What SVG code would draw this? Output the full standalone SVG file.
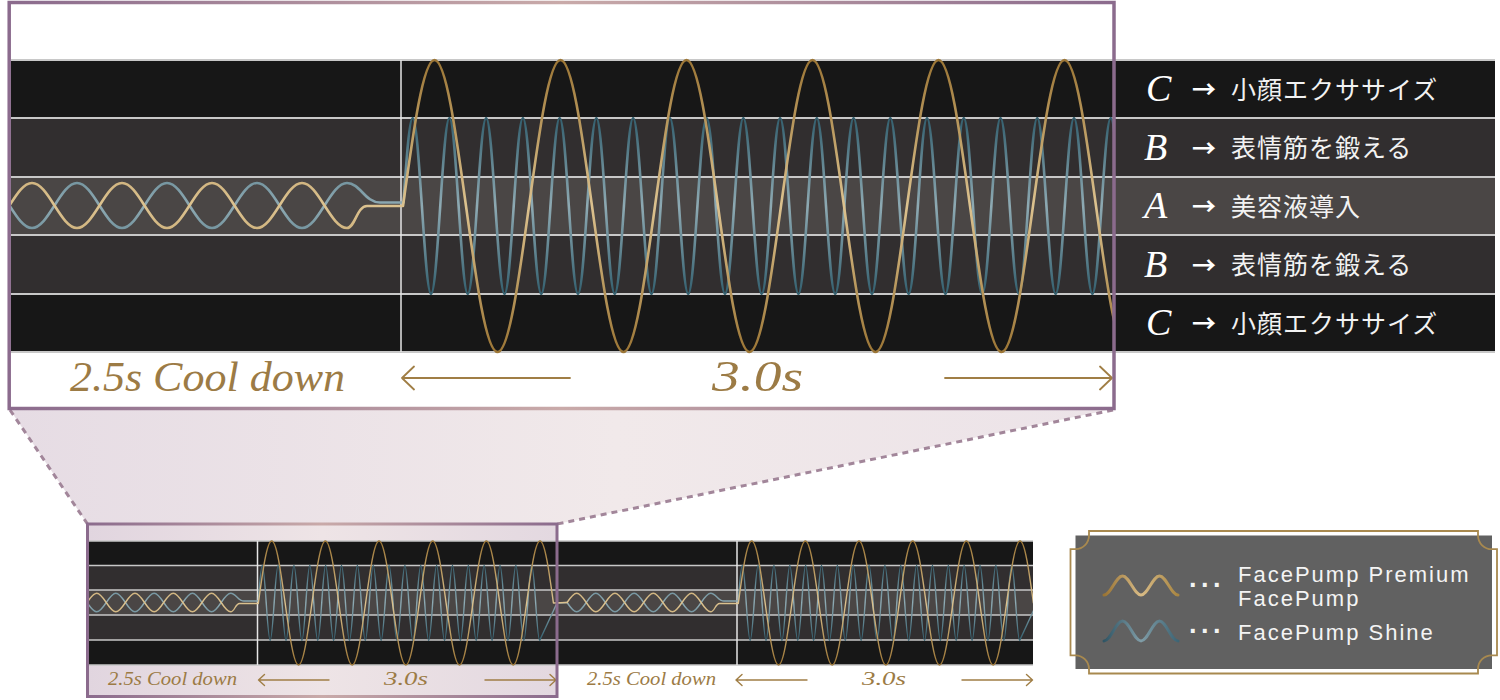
<svg xmlns="http://www.w3.org/2000/svg" width="1500" height="700" viewBox="0 0 1500 700">
<defs>
<style>
.b1{fill:#171717}.b2{fill:#312e2f}.b3{fill:#4a4645}
.sep{stroke:#c8c8c8;stroke-width:2;fill:none}
.seps{stroke:#c8c8c8;stroke-width:1.5;fill:none}
.vl{stroke:#e6e6e6;stroke-width:1.5}
.lbl{font-family:"Liberation Serif",serif;font-style:italic;fill:#9c7b45}
.arw{stroke:#a07e45;stroke-width:1.8;fill:none;stroke-linecap:round;stroke-linejoin:round}
.arws{stroke:#a07e45;stroke-width:1.4;fill:none;stroke-linecap:round;stroke-linejoin:round}
.scr{font-family:"Liberation Serif",serif;font-style:italic;fill:#ffffff;font-size:38px}
.jp{font-family:"Noto Sans CJK JP",sans-serif;fill:#f2f2f2;font-size:25px;letter-spacing:1px}
.arr{font-family:"Noto Sans CJK JP",sans-serif;fill:#ffffff;font-size:24px;font-weight:bold}
.leg{font-family:"Liberation Sans",Arial,sans-serif;fill:#f4f4f4;font-size:22px;letter-spacing:2px}
.dots{font-family:"Liberation Sans",Arial,sans-serif;fill:#f4f4f4;font-size:27px;font-weight:bold;letter-spacing:3px}
.w{fill:none;stroke-linecap:round;stroke-linejoin:round}
</style>
<linearGradient id="frameG" x1="0" y1="0" x2="1" y2="0">
<stop offset="0" stop-color="#8b6b8d"/><stop offset="0.5" stop-color="#c9aaa9"/><stop offset="1" stop-color="#8b6b8d"/>
</linearGradient>
<linearGradient id="trapG" x1="0" y1="0" x2="1" y2="0">
<stop offset="0" stop-color="#e6dce4"/><stop offset="0.55" stop-color="#f1e9ea"/><stop offset="1" stop-color="#ece3e8"/>
</linearGradient>
<linearGradient id="smallFillG" x1="0" y1="0" x2="1" y2="0">
<stop offset="0" stop-color="#e1d5df"/><stop offset="0.5" stop-color="#eee4e6"/><stop offset="1" stop-color="#e3d8e0"/>
</linearGradient>
<linearGradient id="goldT" gradientUnits="userSpaceOnUse" x1="0" y1="60" x2="0" y2="352">
<stop offset="0" stop-color="#9c7636"/><stop offset="0.5" stop-color="#dcc28f"/><stop offset="1" stop-color="#9c7636"/>
</linearGradient>
<linearGradient id="blueT" gradientUnits="userSpaceOnUse" x1="0" y1="118" x2="0" y2="294">
<stop offset="0" stop-color="#34606f"/><stop offset="0.5" stop-color="#8eaab3"/><stop offset="1" stop-color="#34606f"/>
</linearGradient>
<linearGradient id="goldS" gradientUnits="userSpaceOnUse" x1="0" y1="541" x2="0" y2="665">
<stop offset="0" stop-color="#9c7636"/><stop offset="0.5" stop-color="#dcc28f"/><stop offset="1" stop-color="#9c7636"/>
</linearGradient>
<linearGradient id="blueS" gradientUnits="userSpaceOnUse" x1="0" y1="565" x2="0" y2="640">
<stop offset="0" stop-color="#34606f"/><stop offset="0.5" stop-color="#8eaab3"/><stop offset="1" stop-color="#34606f"/>
</linearGradient>
<linearGradient id="legGold" gradientUnits="userSpaceOnUse" x1="1104" y1="0" x2="1178" y2="0">
<stop offset="0" stop-color="#9a7434"/><stop offset="0.5" stop-color="#d8bb86"/><stop offset="1" stop-color="#a98642"/>
</linearGradient>
<linearGradient id="legBlue" gradientUnits="userSpaceOnUse" x1="1104" y1="0" x2="1178" y2="0">
<stop offset="0" stop-color="#2f5565"/><stop offset="0.5" stop-color="#809da7"/><stop offset="1" stop-color="#3d6575"/>
</linearGradient>
<clipPath id="clipTop"><rect x="11" y="0" width="1102" height="420"/></clipPath>
<clipPath id="clipSmall"><rect x="89" y="530" width="944" height="150"/></clipPath>
<path id="sGold" d="M87.1,602.5 c3.123,-4.764 6.11,-9.3 9.575,-9.3 s6.452,4.536 9.575,9.3 s6.11,9.3 9.575,9.3 s6.452,-4.536 9.575,-9.3 s6.11,-9.3 9.575,-9.3 s6.452,4.536 9.575,9.3 s6.11,9.3 9.575,9.3 s6.452,-4.536 9.575,-9.3 s6.11,-9.3 9.575,-9.3 s6.452,4.536 9.575,9.3 s6.11,9.3 9.575,9.3 s6.452,-4.536 9.575,-9.3 s6.11,-9.3 9.575,-9.3 s6.452,4.536 9.575,9.3 s6.11,9.3 9.575,9.3 C234.5,611.8 235.5,603.5 239.5,603.5 L258.3,603.5 c4.375,-32.26 8.56,-62.5 13.415,-62.5 s9.04,30.24 13.415,62 s8.56,62 13.415,62 s9.04,-30.24 13.415,-62 s8.56,-62 13.415,-62 s9.04,30.24 13.415,62 s8.56,62 13.415,62 s9.04,-30.24 13.415,-62 s8.56,-62 13.415,-62 s9.04,30.24 13.415,62 s8.56,62 13.415,62 s9.04,-30.24 13.415,-62 s8.56,-62 13.415,-62 s9.04,30.24 13.415,62 s8.56,62 13.415,62 s9.04,-30.24 13.415,-62 s8.56,-62 13.415,-62 s9.04,30.24 13.415,62 s8.56,62 13.415,62 s9.04,-30.24 13.415,-62 s8.56,-62 13.415,-62 s9.04,30.24 13.415,62 L567.1,602.5"/>
<path id="sBlue" d="M87.1,602.5 c3.123,4.764 6.11,9.3 9.575,9.3 s6.452,-4.536 9.575,-9.3 s6.11,-9.3 9.575,-9.3 s6.452,4.536 9.575,9.3 s6.11,9.3 9.575,9.3 s6.452,-4.536 9.575,-9.3 s6.11,-9.3 9.575,-9.3 s6.452,4.536 9.575,9.3 s6.11,9.3 9.575,9.3 s6.452,-4.536 9.575,-9.3 s6.11,-9.3 9.575,-9.3 s6.452,4.536 9.575,9.3 s6.11,9.3 9.575,9.3 s6.452,-4.536 9.575,-9.3 s6.11,-9.3 9.575,-9.3 C236,593.2 238,601 244,601 L258.3,601 c1.292,-17.65 2.528,-35.5 3.9625,-35.5 s2.67,18.29 3.9625,37.5 s2.528,37.5 3.9625,37.5 s2.67,-18.29 3.9625,-37.5 s2.528,-37.5 3.9625,-37.5 s2.67,18.29 3.9625,37.5 s2.528,37.5 3.9625,37.5 s2.67,-18.29 3.9625,-37.5 s2.528,-37.5 3.9625,-37.5 s2.67,18.29 3.9625,37.5 s2.528,37.5 3.9625,37.5 s2.67,-18.29 3.9625,-37.5 s2.528,-37.5 3.9625,-37.5 s2.67,18.29 3.9625,37.5 s2.528,37.5 3.9625,37.5 s2.67,-18.29 3.9625,-37.5 s2.528,-37.5 3.9625,-37.5 s2.67,18.29 3.9625,37.5 s2.528,37.5 3.9625,37.5 s2.67,-18.29 3.9625,-37.5 s2.528,-37.5 3.9625,-37.5 s2.67,18.29 3.9625,37.5 s2.528,37.5 3.9625,37.5 s2.67,-18.29 3.9625,-37.5 s2.528,-37.5 3.9625,-37.5 s2.67,18.29 3.9625,37.5 s2.528,37.5 3.9625,37.5 s2.67,-18.29 3.9625,-37.5 s2.528,-37.5 3.9625,-37.5 s2.67,18.29 3.9625,37.5 s2.528,37.5 3.9625,37.5 s2.67,-18.29 3.9625,-37.5 s2.528,-37.5 3.9625,-37.5 s2.67,18.29 3.9625,37.5 s2.528,37.5 3.9625,37.5 s2.67,-18.29 3.9625,-37.5 s2.528,-37.5 3.9625,-37.5 s2.67,18.29 3.9625,37.5 s2.528,37.5 3.9625,37.5 s2.67,-18.29 3.9625,-37.5 s2.528,-37.5 3.9625,-37.5 s2.67,18.29 3.9625,37.5 s2.528,37.5 3.9625,37.5 s2.67,-18.29 3.9625,-37.5 s2.528,-37.5 3.9625,-37.5 s2.67,18.29 3.9625,37.5 s2.528,37.5 3.9625,37.5 s2.67,-18.29 3.9625,-37.5 s2.528,-37.5 3.9625,-37.5 s2.67,18.29 3.9625,37.5 s2.528,37.5 3.9625,37.5 s2.67,-18.29 3.9625,-37.5 s2.528,-37.5 3.9625,-37.5 s2.67,18.29 3.9625,37.5 s2.528,37.5 3.9625,37.5 s2.67,-18.29 3.9625,-37.5 s2.528,-37.5 3.9625,-37.5 s2.67,18.29 3.9625,37.5 s2.528,37.5 3.9625,37.5 s2.67,-18.29 3.9625,-37.5 s2.528,-37.5 3.9625,-37.5 s2.67,18.29 3.9625,37.5 s2.528,37.5 3.9625,37.5 s2.67,-18.29 3.9625,-37.5 s2.528,-37.5 3.9625,-37.5 s2.67,18.29 3.9625,37.5 s2.528,37.5 3.9625,37.5 s2.67,-18.29 3.9625,-37.5 s2.528,-37.5 3.9625,-37.5 s2.67,18.29 3.9625,37.5 s2.528,37.5 3.9625,37.5 L557,603 L567.1,602.5"/>
</defs>
<rect x="0" y="0" width="1500" height="700" fill="#ffffff"/>

<g id="zoom-connector">
<polygon points="9.5,409 1113,409 557,524 87.5,524" fill="url(#trapG)"/>
<line x1="10" y1="410" x2="87.5" y2="524" stroke="#a2869a" stroke-width="3" stroke-dasharray="6,5"/>
<line x1="1113" y1="410" x2="557" y2="524" stroke="#a2869a" stroke-width="3" stroke-dasharray="6,5"/>
</g>

<g id="main-panel">
<rect x="9" y="2.5" width="1105" height="406" fill="#ffffff"/>
<rect class="b1" x="11" y="60" width="1484" height="58"/>
<rect class="b2" x="11" y="118" width="1484" height="59"/>
<rect class="b3" x="11" y="177" width="1484" height="58"/>
<rect class="b2" x="11" y="235" width="1484" height="59"/>
<rect class="b1" x="11" y="294" width="1484" height="58"/>
<path class="sep" d="M11,60H1495M11,118H1495M11,177H1495M11,235H1495M11,294H1495M11,352H1495"/>
<line class="vl" x1="401" y1="60" x2="401" y2="352"/>
<g clip-path="url(#clipTop)">
<path class="w" stroke="url(#blueT)" stroke-width="2.6" d="M9.5,205.5 c7.338,11.53 14.357,22.5 22.5,22.5 s15.16,-10.97 22.5,-22.5 s14.357,-22.5 22.5,-22.5 s15.16,10.97 22.5,22.5 s14.357,22.5 22.5,22.5 s15.16,-10.97 22.5,-22.5 s14.357,-22.5 22.5,-22.5 s15.16,10.97 22.5,22.5 s14.357,22.5 22.5,22.5 s15.16,-10.97 22.5,-22.5 s14.357,-22.5 22.5,-22.5 s15.16,10.97 22.5,22.5 s14.357,22.5 22.5,22.5 s15.16,-10.97 22.5,-22.5 s14.357,-22.5 22.5,-22.5 C360,183 365,202.5 380,202.5 L403.5,202.5 c2.995,-43.5 5.861,-84.5 9.185,-84.5 s6.19,42.92 9.185,88 s5.861,88 9.185,88 s6.19,-42.92 9.185,-88 s5.861,-88 9.185,-88 s6.19,42.92 9.185,88 s5.861,88 9.185,88 s6.19,-42.92 9.185,-88 s5.861,-88 9.185,-88 s6.19,42.92 9.185,88 s5.861,88 9.185,88 s6.19,-42.92 9.185,-88 s5.861,-88 9.185,-88 s6.19,42.92 9.185,88 s5.861,88 9.185,88 s6.19,-42.92 9.185,-88 s5.861,-88 9.185,-88 s6.19,42.92 9.185,88 s5.861,88 9.185,88 s6.19,-42.92 9.185,-88 s5.861,-88 9.185,-88 s6.19,42.92 9.185,88 s5.861,88 9.185,88 s6.19,-42.92 9.185,-88 s5.861,-88 9.185,-88 s6.19,42.92 9.185,88 s5.861,88 9.185,88 s6.19,-42.92 9.185,-88 s5.861,-88 9.185,-88 s6.19,42.92 9.185,88 s5.861,88 9.185,88 s6.19,-42.92 9.185,-88 s5.861,-88 9.185,-88 s6.19,42.92 9.185,88 s5.861,88 9.185,88 s6.19,-42.92 9.185,-88 s5.861,-88 9.185,-88 s6.19,42.92 9.185,88 s5.861,88 9.185,88 s6.19,-42.92 9.185,-88 s5.861,-88 9.185,-88 s6.19,42.92 9.185,88 s5.861,88 9.185,88 s6.19,-42.92 9.185,-88 s5.861,-88 9.185,-88 s6.19,42.92 9.185,88 s5.861,88 9.185,88 s6.19,-42.92 9.185,-88 s5.861,-88 9.185,-88 s6.19,42.92 9.185,88 s5.861,88 9.185,88 s6.19,-42.92 9.185,-88 s5.861,-88 9.185,-88 s6.19,42.92 9.185,88 s5.861,88 9.185,88 s6.19,-42.92 9.185,-88 s5.861,-88 9.185,-88 s6.19,42.92 9.185,88 s5.861,88 9.185,88 s6.19,-42.92 9.185,-88 s5.861,-88 9.185,-88 s6.19,42.92 9.185,88 s5.861,88 9.185,88 s6.19,-42.92 9.185,-88 s5.861,-88 9.185,-88 s6.19,42.92 9.185,88 s5.861,88 9.185,88 s6.19,-42.92 9.185,-88 s5.861,-88 9.185,-88 s6.19,42.92 9.185,88 s5.861,88 9.185,88 s6.19,-42.92 9.185,-88 s5.861,-88 9.185,-88 s6.19,42.92 9.185,88 s5.861,88 9.185,88 s6.19,-42.92 9.185,-88 s5.861,-88 9.185,-88 s6.19,42.92 9.185,88 s5.861,88 9.185,88 s6.19,-42.92 9.185,-88 s5.861,-88 9.185,-88 s6.19,42.92 9.185,88 s5.861,88 9.185,88 s6.19,-42.92 9.185,-88 s5.861,-88 9.185,-88 s6.19,42.92 9.185,88"/>
<path class="w" stroke="url(#goldT)" stroke-width="2.6" d="M9.5,205.5 c7.338,-11.53 14.357,-22.5 22.5,-22.5 s15.16,10.97 22.5,22.5 s14.357,22.5 22.5,22.5 s15.16,-10.97 22.5,-22.5 s14.357,-22.5 22.5,-22.5 s15.16,10.97 22.5,22.5 s14.357,22.5 22.5,22.5 s15.16,-10.97 22.5,-22.5 s14.357,-22.5 22.5,-22.5 s15.16,10.97 22.5,22.5 s14.357,22.5 22.5,22.5 s15.16,-10.97 22.5,-22.5 s14.357,-22.5 22.5,-22.5 s15.16,10.97 22.5,22.5 s14.357,22.5 22.5,22.5 C355,228 357,206 367,206 L403,206 c10.27,-74.8 20.1,-146 31.5,-146 s21.23,71.2 31.5,146 s20.1,146 31.5,146 s21.23,-71.2 31.5,-146 s20.1,-146 31.5,-146 s21.23,71.2 31.5,146 s20.1,146 31.5,146 s21.23,-71.2 31.5,-146 s20.1,-146 31.5,-146 s21.23,71.2 31.5,146 s20.1,146 31.5,146 s21.23,-71.2 31.5,-146 s20.1,-146 31.5,-146 s21.23,71.2 31.5,146 s20.1,146 31.5,146 s21.23,-71.2 31.5,-146 s20.1,-146 31.5,-146 s21.23,71.2 31.5,146 s20.1,146 31.5,146 s21.23,-71.2 31.5,-146 s20.1,-146 31.5,-146 s21.23,71.2 31.5,146 s20.1,146 31.5,146"/>
</g>
<text class="lbl" x="70" y="391" font-size="42" textLength="275" lengthAdjust="spacingAndGlyphs">2.5s Cool down</text>
<text class="lbl" x="712" y="391" font-size="44" textLength="91" lengthAdjust="spacingAndGlyphs">3.0s</text>
<path class="arw" d="M570,378H402M414,366.5L402,378L414,389.5"/>
<path class="arw" d="M945,378H1112M1100,366.5L1112,378L1100,389.5"/>
<rect x="9.2" y="2.5" width="1104.8" height="406" fill="none" stroke="url(#frameG)" stroke-width="3.5"/>
</g>

<g id="phase-labels">
<g id="row-c1"><text class="scr" x="1146" y="101">C</text><text class="arr" x="1192" y="98">→</text><text class="jp" x="1231" y="98.5">小顔エクササイズ</text></g>
<g id="row-b1"><text class="scr" x="1144" y="159.5">B</text><text class="arr" x="1192" y="156.5">→</text><text class="jp" x="1231" y="157">表情筋を鍛える</text></g>
<g id="row-a"><text class="scr" x="1144" y="218">A</text><text class="arr" x="1192" y="215">→</text><text class="jp" x="1231" y="215.5">美容液導入</text></g>
<g id="row-b2"><text class="scr" x="1144" y="276.5">B</text><text class="arr" x="1192" y="273.5">→</text><text class="jp" x="1231" y="274">表情筋を鍛える</text></g>
<g id="row-c2"><text class="scr" x="1146" y="335">C</text><text class="arr" x="1192" y="332">→</text><text class="jp" x="1231" y="332.5">小顔エクササイズ</text></g>
</g>

<g id="overview">
<rect x="87.5" y="524" width="469.5" height="172.5" fill="url(#smallFillG)"/>
<rect class="b1" x="89" y="541" width="944" height="24.5"/>
<rect class="b2" x="89" y="565.5" width="944" height="24.5"/>
<rect class="b3" x="89" y="590" width="944" height="25"/>
<rect class="b2" x="89" y="615" width="944" height="25"/>
<rect class="b1" x="89" y="640" width="944" height="25"/>
<path class="seps" d="M89,541H1033M89,565.5H1033M89,590H1033M89,615H1033M89,640H1033M89,665H1033"/>
<line class="vl" x1="257.5" y1="541" x2="257.5" y2="665" stroke-width="1.2"/>
<line class="vl" x1="737" y1="541" x2="737" y2="665" stroke-width="1.2"/>
<g clip-path="url(#clipSmall)">
<use href="#sBlue" class="w" stroke="url(#blueS)" stroke-width="1.4"/>
<use href="#sBlue" class="w" stroke="url(#blueS)" stroke-width="1.4" transform="translate(480,0)"/>
<use href="#sGold" class="w" stroke="url(#goldS)" stroke-width="1.4"/>
<use href="#sGold" class="w" stroke="url(#goldS)" stroke-width="1.4" transform="translate(480,0)"/>
</g>
<text class="lbl" x="108" y="685" font-size="19" textLength="129" lengthAdjust="spacingAndGlyphs">2.5s Cool down</text>
<text class="lbl" x="384" y="685" font-size="19" textLength="44" lengthAdjust="spacingAndGlyphs">3.0s</text>
<path class="arws" d="M329,680H258.5M264.5,674.5L258.5,680L264.5,685.5"/>
<path class="arws" d="M485,680H556M550,674.5L556,680L550,685.5"/>
<text class="lbl" x="587" y="685" font-size="19" textLength="129" lengthAdjust="spacingAndGlyphs">2.5s Cool down</text>
<text class="lbl" x="862" y="685" font-size="19" textLength="44" lengthAdjust="spacingAndGlyphs">3.0s</text>
<path class="arws" d="M807,680H736M742,674.5L736,680L742,685.5"/>
<path class="arws" d="M962,680H1032.5M1026.5,674.5L1032.5,680L1026.5,685.5"/>
<rect x="87.5" y="524" width="469.5" height="172.5" fill="none" stroke="url(#frameG)" stroke-width="3"/>
</g>

<g id="legend">
<rect x="1075.5" y="535.5" width="416.5" height="133.5" fill="#616161"/>
<path d="M1089,531 H1478 V535.5 A13.7,13.7 0 0 0 1492,549.2 H1497 V655.3 H1492 A13.7,13.7 0 0 0 1478,669 V673.5 H1089 V669 A13.7,13.7 0 0 0 1075.5,655.3 H1070.5 V549.2 H1075.5 A13.7,13.7 0 0 0 1089,535.5 Z" fill="none" stroke="#a8894f" stroke-width="1.8"/>
<path class="w" stroke="url(#legGold)" stroke-width="3" d="M1104,595 c3.348,0 6.233,-4.633 9.25,-9.5 s5.902,-9.5 9.25,-9.5 s6.233,4.633 9.25,9.5 s5.902,9.5 9.25,9.5 s6.233,-4.633 9.25,-9.5 s5.902,-9.5 9.25,-9.5 s6.233,4.633 9.25,9.5 s5.902,9.5 9.25,9.5"/>
<path class="w" stroke="url(#legBlue)" stroke-width="3" d="M1104,641 c3.348,0 6.233,-4.877 9.25,-10 s5.902,-10 9.25,-10 s6.233,4.877 9.25,10 s5.902,10 9.25,10 s6.233,-4.877 9.25,-10 s5.902,-10 9.25,-10 s6.233,4.877 9.25,10 s5.902,10 9.25,10"/>
<text class="dots" x="1189" y="594">···</text>
<text class="dots" x="1189" y="640">···</text>
<text class="leg" x="1238" y="582">FacePump Premium</text>
<text class="leg" x="1238" y="606">FacePump</text>
<text class="leg" x="1238" y="640">FacePump Shine</text>
</g>
</svg>
